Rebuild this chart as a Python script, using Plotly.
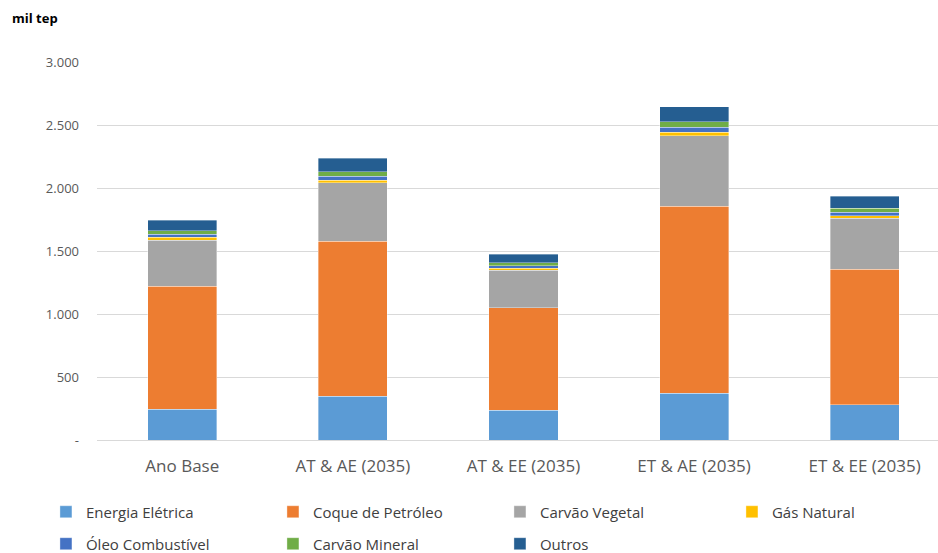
import plotly.graph_objects as go

categories = ["Ano Base", "AT & AE (2035)", "AT & EE (2035)", "ET & AE (2035)", "ET & EE (2035)"]
energia_eletrica = [246, 349, 238, 373, 278]
coque_petroleo = [976, 1230, 810, 1484, 1079]
carvao_vegetal = [365, 463, 301, 558, 403]
gas_natural = [22, 21, 13, 27, 21]
oleo_combustivel = [24, 32, 21, 42, 27]
carvao_mineral = [28, 34, 24, 42, 32]
outros = [85, 106, 69, 119, 93]

tick_vals = [0, 500, 1000, 1500, 2000, 2500, 3000]
tick_text = ["-", "500", "1.000", "1.500", "2.000", "2.500", "3.000"]

series = [
    ("Energia Elétrica", energia_eletrica, "#5B9BD5", "legend"),
    ("Coque de Petróleo", coque_petroleo, "#ED7D31", "legend"),
    ("Carvão Vegetal", carvao_vegetal, "#A5A5A5", "legend"),
    ("Gás Natural", gas_natural, "#FFC000", "legend3"),
    ("Óleo Combustível", oleo_combustivel, "#4472C4", "legend2"),
    ("Carvão Mineral", carvao_mineral, "#70AD47", "legend2"),
    ("Outros", outros, "#255E91", "legend2"),
]

fig = go.Figure()
for name, vals, color, leg in series:
    fig.add_trace(go.Bar(
        x=categories, y=vals, name=name, legend=leg,
        marker=dict(color=color, line=dict(color="rgba(255,255,255,0.6)", width=0.6)),
    ))

font_family = "Open Sans, sans-serif"
legend_common = dict(
    orientation="h", xanchor="left", yanchor="middle",
    entrywidth=182, entrywidthmode="pixels", itemwidth=30,
    font=dict(family=font_family, size=15, color="#404040"),
    bgcolor="rgba(0,0,0,0)", traceorder="normal",
)

fig.update_layout(
    width=938, height=553,
    barmode="stack", bargap=0.595,
    plot_bgcolor="white", paper_bgcolor="white",
    margin=dict(l=97, r=0, t=62, b=113, autoexpand=False),
    font=dict(family=font_family, color="#595959"),
    showlegend=True,
    legend=dict(x=-0.0607, y=-0.1905, **legend_common),
    legend3=dict(x=0.755, y=-0.1905, **legend_common),
    legend2=dict(x=-0.0607, y=-0.275, **legend_common),
    xaxis=dict(range=[-0.5, 4.43], showgrid=False, showline=False, ticks="",
               tickfont=dict(size=17, color="#595959"), ticklabelstandoff=14),
    yaxis=dict(range=[0, 3000], tickvals=tick_vals, ticktext=tick_text,
               showgrid=True, gridcolor="#D9D9D9", gridwidth=1, zeroline=True,
               zerolinecolor="#D9D9D9", zerolinewidth=1,
               tickfont=dict(size=13, color="#595959"), ticklabelstandoff=17),
    annotations=[dict(text="<b>mil tep</b>", xref="paper", yref="paper", x=-0.103, y=1.116,
                      xanchor="left", yanchor="middle", showarrow=False,
                      font=dict(size=13, color="#000000", family=font_family))],
)

fig.write_html("out.html", config={"displayModeBar": False},
               post_script="document.body.style.margin='0';document.body.style.padding='0';")
